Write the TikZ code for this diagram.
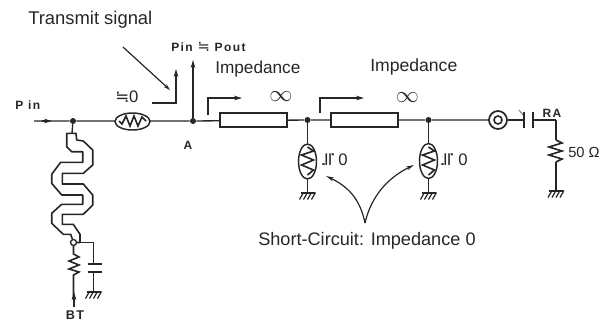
\documentclass[tikz,border=0pt]{standalone}
\usepackage{fontspec}
\setmainfont{Liberation Sans}
\newfontfamily\symf{DejaVu Sans}
\newfontfamily\spaced[LetterSpace=12]{Liberation Sans}
\usetikzlibrary{arrows.meta,shapes.geometric}
\newlength{\pxu}\setlength{\pxu}{0.75pt}
\tikzset{
  wire/.style={line width=1pt,black!85},
  bold/.style={line width=1.5pt,black!85},
  zig/.style={line width=1.2pt,black!85,line join=miter},
  flow/.style={line width=1pt,black!85,-{Stealth[length=6pt,width=3.5pt]}},
  pointer/.style={line width=.9pt,black!85,-{Stealth[length=6pt,width=3pt]}},
  box/.style={draw=black!85,line width=1.1pt,minimum width=67\pxu,minimum height=14\pxu,inner sep=0pt,fill=white},
  lbl/.style={inner sep=0pt,text=black!85},
  small/.style={inner sep=0pt,font=\fontsize{9}{10}\selectfont\spaced\bfseries,text=black!85},
  dotn/.style={circle,fill=black!85,inner sep=0pt,minimum size=4.5pt},
  oval/.style={draw=black!85,line width=1.1pt,ellipse,inner sep=0pt,fill=white},
  stuboval/.style={oval,minimum width=18\pxu,minimum height=35\pxu},
  plate/.style={line width=1.7pt,black!85},
  gnd/.pic={\draw[line width=1.5pt,black!85] (-7,0)--(7,0);
     \foreach \i in {-4,0,4,8}{\draw[line width=.9pt,black!85] (\i,0)--(\i-4,7);}},
}
\begin{document}
\begin{tikzpicture}[x=0.75pt,y=-0.75pt]
\useasboundingbox (0,0) rectangle (608,322);
% texts
\node[lbl,anchor=west,font=\fontsize{13.8}{15}\selectfont] (ts) at (28,20) {Transmit signal};
\node[lbl,anchor=west,font=\fontsize{12.9}{15}\selectfont] (imp1) at (215,69) {Impedance};
\node[lbl,anchor=west,font=\fontsize{13.2}{15}\selectfont] (imp2) at (370,67) {Impedance};
\node[lbl,anchor=west,font=\fontsize{13.6}{15}\selectfont] (sc) at (258,241) {Short-Circuit: Impedance 0};
\node[small,anchor=west] (pp) at (171,47) {Pin {\fontsize{11}{12}\selectfont\symf\mdseries ≒} Pout};
\node[small,anchor=west] (pi) at (15,105) {P in};
\node[small] (a) at (188,145) {A};
\node[small,font=\fontsize{9.5}{11}\selectfont\spaced\bfseries] (bt) at (75,315) {BT};
\node[lbl,anchor=west,font=\fontsize{12.5}{13}\selectfont] (z1) at (115,97) {{\symf ≒}0};
\node[lbl,rotate=90,font=\fontsize{14}{14}\selectfont\symf] (z2) at (329,160) {≒};
\node[lbl,font=\fontsize{12.5}{13}\selectfont] (z2b) at (343,160) {0};
\node[lbl,rotate=90,font=\fontsize{14}{14}\selectfont\symf] (z3) at (448,160) {≒};
\node[lbl,font=\fontsize{12.5}{13}\selectfont] (z3b) at (463,160) {0};
\node[lbl,font=\fontsize{18}{18}\selectfont] (inf1) at (281,97) {$\infty$};
\node[lbl,font=\fontsize{18}{18}\selectfont] (inf2) at (407.5,98) {$\infty$};
\node[small] (ra) at (552,113) {RA};
\node[lbl,font=\fontsize{11}{12}\selectfont,anchor=west] (r50) at (568,152) {50 Ω};
% junctions
\coordinate (start) at (34,121);
\node[dotn] (j1) at (73,121) {};
\node[dotn] (ja) at (193,121) {};
\node[dotn] (j2) at (307.5,120) {};
\node[dotn] (j3) at (428.5,120) {};
% main line
\draw[wire] (start)--(j1)--(ja)--(j2)--(j3)--(489,120);
\draw[flow] (42,121)--(52,121);
% through resistor oval
\node[oval,minimum width=35\pxu,minimum height=17\pxu] (o1) at (132.5,121.5) {};
\draw[zig] (119,121)--(122,124)--(126,116)--(130,126)--(134,116)--(138,126)--(142,117)--(146,121);
% boxes
\node[box] (b1) at (253.5,120) {};
\node[box] (b2) at (364.5,120) {};
% P out arrows
\draw[flow] (ja)--(193,60);
\coordinate (tsa) at (123,47);
\coordinate (tsb) at (170,90);
\draw[line width=.9pt,black!85,-{Stealth[length=5pt,width=3pt]}] (tsa)--(tsb);
\draw[bold] (152,103)--(176,103)--(176,80);
\draw[flow] (176,85)--(176,69);
% impedance arrows
\draw[wire,line width=1.2pt] (208,115)--(208,98)--(233,98);
\draw[flow] (228,98)--(242,98);
\draw[wire,line width=1.2pt] (320,113)--(320,98)--(355,98);
\draw[flow] (350,98)--(364,98);
% stubs
\node[stuboval] (o2) at (307.5,161.5) {};
\node[stuboval] (o3) at (428.5,161) {};
\coordinate (g2) at (307.5,192.5);
\coordinate (g3) at (428.5,192.5);
\draw[wire] (j2)--(o2.north);
\draw[wire] (j3)--(o3.north);
\foreach \c in {307.5,428.5}{
 \draw[zig] (\c,147)--(\c+6,151)--(\c-6,155)--(\c+6,160)--(\c-6,165)--(\c+6,170)--(\c,175);
}
\draw[wire] (o2.south)--(g2);
\draw[wire] (o3.south)--(g3);
\pic at (g2) {gnd};
\pic at (g3) {gnd};
% curved arrows
\coordinate (ctip) at (365,223);
\draw[pointer] (ctip) .. controls (360,198) and (347,186) .. (326,176);
\draw[pointer] (ctip) .. controls (371,197) and (387,178) .. (414,165);
% coaxial + cap
\node[circle,draw=black!85,line width=1.3pt,minimum size=18\pxu,inner sep=0pt,fill=white] (co) at (498,120) {};
\node[circle,draw=black!85,line width=1.2pt,minimum size=8\pxu,inner sep=0pt] (co2) at (498,120) {};
\coordinate (cl) at (524,120);
\coordinate (cr) at (533,120);
\coordinate (rt) at (556,120);
\draw[wire] (co)--(cl);
\draw[plate] (524,112)--(524,128);
\draw[plate] (533,112)--(533,128);
\draw[bold] (cr)--(rt);
\draw[wire] (rt)--(556,140);
\draw[zig] (556,140)--(562,143)--(549,147)--(562,151)--(549,155)--(562,159)--(556,162);
\coordinate (g4) at (556,190.5);
\draw[wire] (556,162)--(g4);
\pic at (g4) {gnd};
\draw[line width=.6pt,black!60] (519,110)--(523,115);
% meander
\coordinate (ntop) at (72,133.3);
\draw[wire] (j1)--(ntop);
\node[circle,draw=black!85,fill=white,line width=1pt,inner sep=0pt,minimum size=4.5pt] (jb) at (73.5,242.5) {};
\draw[line width=1.2pt,black!85,line join=round]
 (jb)--(70.7,234.3)--(63.3,234.3)--(51.7,223.3)--(51.7,213.3)--(61.7,204.3)--(82.7,204.3)--(82.7,195)--(61.7,195)--(51.7,183.3)--(51.7,174.3)--(60.7,162.3)--(82.7,162.3)--(82.7,151.7)--(71.7,151.7)--(66.7,146.7)--(66.7,133.3)--(76,133.3)--(76.7,140)--(83.3,141)--(92.7,150)--(92.7,165)--(83.3,173.3)--(62.3,173.3)--(62.3,184)--(83.3,184)--(92.7,195)--(92.7,205)--(83.3,214.3)--(62.3,214.3)--(62.3,224.3)--(73.3,224.3)--(80,234.3)--(80,242.5)--(jb);
% bias branch
\coordinate (capt) at (93.5,264);
\coordinate (capb) at (93.5,272);
\draw[wire] (jb)--(93.5,242.5)--(capt);
\draw[plate] (87.5,264)--(101.5,264);
\draw[plate] (87.5,272)--(101.5,272);
\coordinate (g5) at (93.5,291.5);
\draw[wire] (capb)--(g5);
\pic at (g5) {gnd};
\draw[zig] (jb)--(73.5,254)--(79,257)--(69,261)--(79,265)--(69,269)--(79,272)--(73.5,275)--(73.5,300);
\coordinate (btl) at (74,307);
\draw[flow] (btl)--(74,292);
\end{tikzpicture}
\end{document}
